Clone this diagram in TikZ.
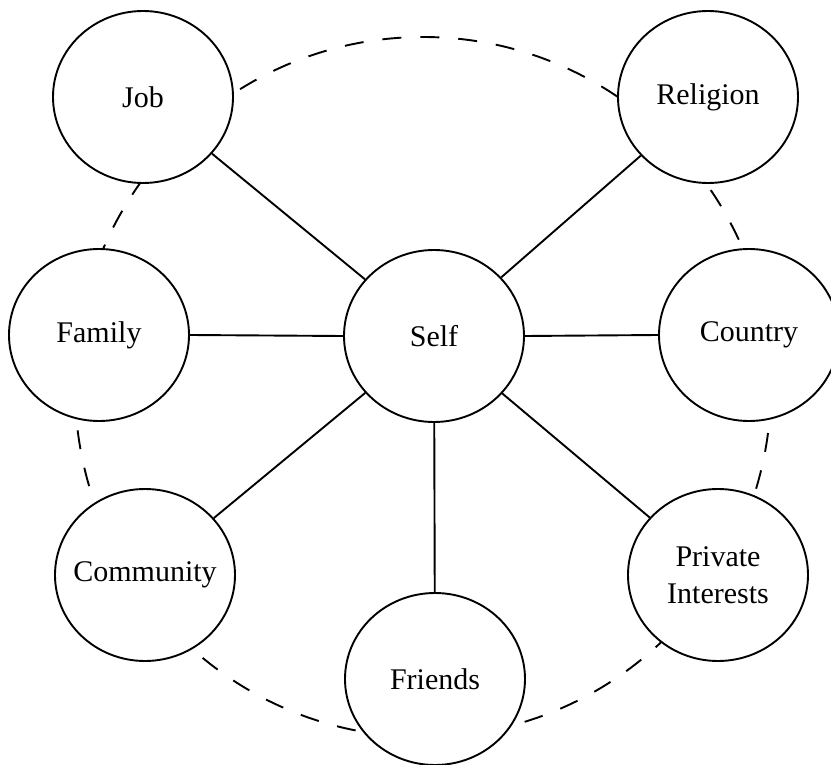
\documentclass[tikz,border=0pt]{standalone}
\usepackage{fontspec}
\setmainfont{Liberation Serif}
\usetikzlibrary{shapes.geometric}
\begin{document}
\begin{tikzpicture}[x=1pt,y=-1pt,
  bubble/.style={ellipse, draw, line width=1.9pt, fill=white, minimum width=180pt, minimum height=172pt, inner sep=0pt, align=center, font=\fontsize{30}{37}\selectfont},
  link/.style={line width=1.9pt},
  ring/.style={line width=1.9pt, dash pattern=on 19pt off 19pt}]
\useasboundingbox (0,0) rectangle (831,765);
\draw[ring] (423,387) ellipse [x radius=348pt, y radius=350pt];
\node[bubble] (self) at (434,336) {Self};
\node[bubble] (job) at (143,97) {Job};
\node[bubble] (religion) at (708,97) {Religion};
\node[bubble] (family) at (99,335) {Family};
\node[bubble] (country) at (749,335) {Country};
\node[bubble] (community) at (145,575) {\makebox[0pt][c]{Community}};
\node[bubble] (private) at (718,575) {Private\\Interests};
\node[bubble] (friends) at (435,679) {Friends};
\draw[link] (self) -- (job);
\draw[link] (self) -- (religion);
\draw[link] (self.west) -- (family.east);
\draw[link] (self.east) -- (country.west);
\draw[link] (self) -- (community);
\draw[link] (self) -- (private);
\draw[link] (self) -- (friends);
\end{tikzpicture}
\end{document}
